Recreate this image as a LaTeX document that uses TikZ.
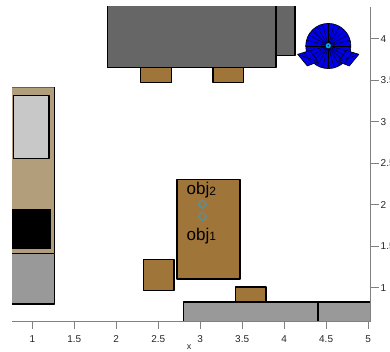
\documentclass[tikz,border=0pt]{standalone}
\usepackage{fontspec}
\setmainfont{Liberation Sans}
\definecolor{wood}{RGB}{160,117,58}
\definecolor{tan}{RGB}{178,158,122}
\definecolor{darkgrey}{RGB}{102,102,102}
\definecolor{midgrey}{RGB}{153,153,153}
\definecolor{lightgrey}{RGB}{200,200,200}
\definecolor{axisgrey}{RGB}{128,128,128}
\definecolor{robotblue}{RGB}{0,0,230}
\begin{document}
\begin{tikzpicture}[x=1pt,y=-1pt,
  item/.style={draw=black,line width=1.3pt,line join=round},
  axisline/.style={draw=axisgrey,line width=0.8pt},
  ticklabel/.style={text=black!85,font=\fontsize{10}{10}\selectfont,inner sep=0pt},
  spoke/.style={draw=black,line width=0.4pt},
  objlabel/.style={anchor=base west,inner sep=0pt,font=\fontsize{17}{17}\selectfont},
  marker/.style={draw=cyan,dashed,dash pattern=on 1.5pt off 1pt,line width=0.9pt}]
\useasboundingbox (0,0) rectangle (390,352);

\begin{scope}
\clip (12,7) rectangle (370.7,321);
% shelf on the left wall
\fill[tan] (0,87) rectangle (54.3,253.3);
\draw[draw=tan!60!black,line width=0.8pt] (0,87) -- (54.3,87);
\draw[item] (54.3,87) -- (54.3,253.3);
\draw[item,fill=lightgrey] (13.3,95.7) rectangle (49,158.3);
\fill[black] (0,209.3) rectangle (50.7,249);
\draw[item,fill=midgrey] (0,253.3) rectangle (54.3,304);

% counter at the top
\draw[item,fill=darkgrey] (107.3,-5) rectangle (276,67.7);
\draw[item,fill=darkgrey] (276,-5) rectangle (295,55.3);
\draw[item,fill=wood] (140.7,67.7) rectangle (171.7,82.7);
\draw[item,fill=wood] (213,67.7) rectangle (243.3,82.7);

% table and seats
\draw[item,fill=wood] (177,179.3) rectangle (240,279);
\draw[item,fill=wood] (143.3,259.7) rectangle (174,290.3);
\draw[item,fill=wood] (235.7,287) rectangle (266,302);

% bench at the bottom
\draw[item,fill=midgrey] (183.7,302) rectangle (318,330);
\draw[item,fill=midgrey] (318,302) rectangle (385,330);
\draw[black,line width=2.2pt] (318.3,302) -- (318.3,321);
\end{scope}

% robot
\coordinate (rc) at (328.3,46);
\fill[robotblue] (rc) circle (22.6);
\begin{scope}
\clip (rc) circle (22.6);
\foreach \a in {0,15,...,345} \draw[spoke] (rc) -- ++(\a:23);
\end{scope}
\draw[black,line width=0.6pt] (rc) circle (22.6);
\filldraw[fill=robotblue,draw=black,line width=0.6pt,line join=round]
  (297.7,54.3) -- (310,50.5) -- (318.3,61.7) -- (307.3,66) -- cycle;
\draw[spoke] (297.7,54.3) -- (318.3,61.7) (304,52.3) -- (312.5,64);
\filldraw[fill=robotblue,draw=black,line width=0.6pt,line join=round]
  (358.9,54.3) -- (346.6,50.5) -- (338.3,61.7) -- (349.3,66) -- cycle;
\draw[spoke] (358.9,54.3) -- (338.3,61.7) (352.6,52.3) -- (344.1,64);
\fill[cyan] (328.3,45.7) circle (2.6);
\fill[black] (328.3,45.7) circle (0.8);

% object markers and labels
\draw[axisgrey,line width=1.3pt] (202.5,204.3) circle (3.6);
\draw[marker] (202.5,204.3) circle (3.6);
\draw[axisgrey,line width=1.3pt] (202.5,216.5) circle (3.6);
\draw[marker] (202.5,216.5) circle (3.6);
\node[objlabel] (obj2) at (186.5,194.8) {obj\raisebox{-0.5pt}{\fontsize{12}{12}\selectfont 2}};
\node[objlabel] (obj1) at (186.5,240.2) {obj\raisebox{-0.5pt}{\fontsize{12}{12}\selectfont 1}};

% axes
\draw[axisline] (12,321) -- (370.7,321);
\draw[axisline] (370.7,7) -- (370.7,321);
\foreach \v/\t in {1/1,1.5/1.5,2/2,2.5/2.5,3/3,3.5/3.5,4/4,4.5/4.5,5/5} {
  \pgfmathsetmacro{\px}{32.3+(\v-1)*83.95}
  \draw[axisline] (\px,321) -- (\px,329);
  \node[ticklabel] (xt\t) at (\px,339) {\t};
}
\foreach \v/\t in {1/1,1.5/1.5,2/2,2.5/2.5,3/3,3.5/3.5,4/4} {
  \pgfmathsetmacro{\py}{287.7-(\v-1)*83}
  \draw[axisline] (370.7,\py) -- (378.5,\py);
  \node[ticklabel,anchor=west] (yt\t) at (380.5,\py) {\t};
}
\node[ticklabel,font=\fontsize{9}{9}\selectfont] (xlabel) at (189,347.5) {x};
\end{tikzpicture}
\end{document}
